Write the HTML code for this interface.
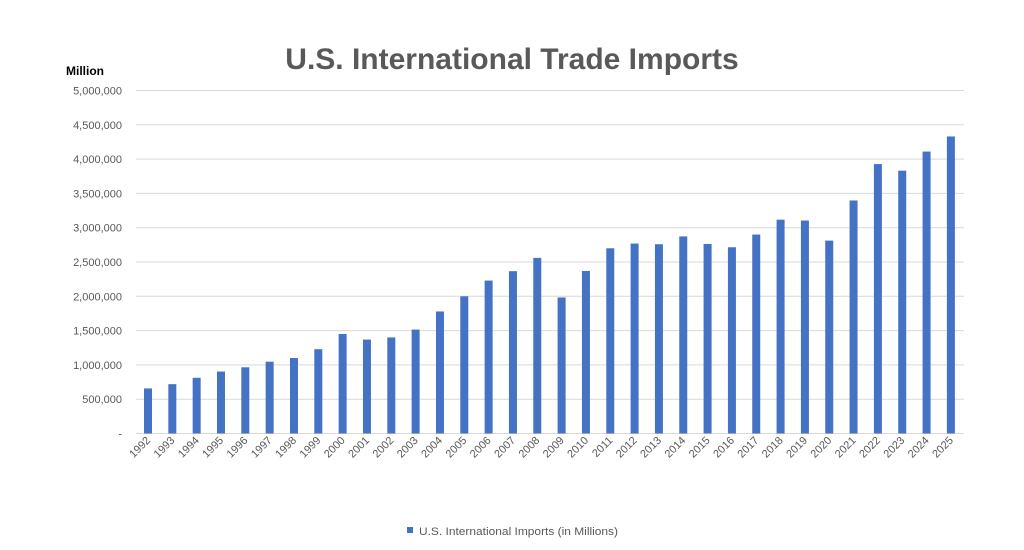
<!DOCTYPE html>
<html><head><meta charset="utf-8"><style>body{margin:0;background:#fff}svg{display:block}</style></head>
<body>
<svg width="1024" height="550" xmlns="http://www.w3.org/2000/svg" font-family="Liberation Sans, sans-serif">
<rect width="1024" height="550" fill="#fff"/>
<text x="512" y="69" text-anchor="middle" font-size="30" font-weight="bold" fill="#595959">U.S. International Trade Imports</text>
<text x="66" y="75" font-size="12" font-weight="bold" fill="#000">Million</text>
<g id="grid" stroke="#d9d9d9" stroke-width="1"></g>
<g id="yl" font-size="11" fill="#595959" text-anchor="end"></g>
<g id="bars" fill="#4472C4"></g>
<g id="xl" font-size="11" fill="#595959" text-anchor="end"></g>
<rect x="407" y="527" width="6" height="6" fill="#4472C4"/>
<text x="419" y="535" font-size="11" fill="#595959" textLength="199" lengthAdjust="spacingAndGlyphs">U.S. International Imports (in Millions)</text>
</svg>
<script>
var ns="http://www.w3.org/2000/svg";
function el(p,t,a,txt){var e=document.createElementNS(ns,t);for(var k in a)e.setAttribute(k,a[k]);if(txt)e.textContent=txt;document.getElementById(p).appendChild(e);}
var z=433.5,s=343/5000000;
var labs=["-","500,000","1,000,000","1,500,000","2,000,000","2,500,000","3,000,000","3,500,000","4,000,000","4,500,000","5,000,000"];
for(var i=0;i<=10;i++){var y=z-i*500000*s;el("grid","line",{x1:136,x2:964,y1:y,y2:y});el("yl","text",{x:122,y:y+4},labs[i]);}
var v=[657,719,812,903,965,1047,1100,1229,1450,1369,1400,1515,1779,2000,2229,2366,2560,1983,2369,2700,2769,2759,2873,2763,2715,2900,3117,3105,2812,3397,3927,3831,4110,4330];
for(var i=0;i<v.length;i++){var x=144+i*24.33,h=v[i]*1000*s;el("bars","rect",{x:x,y:z-h,width:8,height:h});
var cx=x+4+3,cy=441;el("xl","text",{x:cx,y:cy,transform:"rotate(-45 "+cx+" "+cy+")"},String(1992+i));}
</script>
</body></html>
